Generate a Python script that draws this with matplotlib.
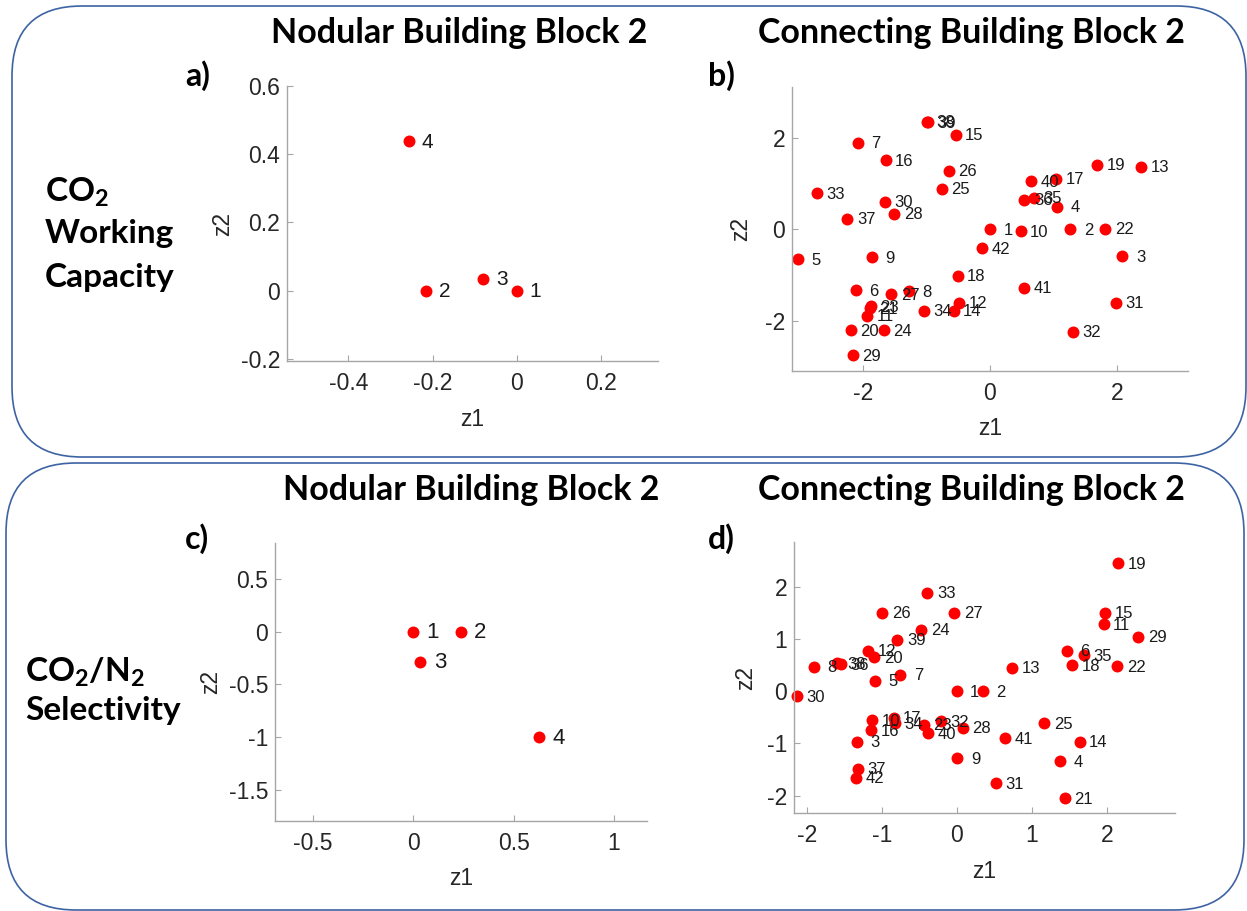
import matplotlib
matplotlib.use('Agg')
import matplotlib.pyplot as plt
from matplotlib.patches import FancyBboxPatch

plt.rcParams['font.family'] = 'Liberation Sans'
plt.rcParams['axes.unicode_minus'] = False
plt.rcParams['mathtext.fontset'] = 'custom'
plt.rcParams['mathtext.rm'] = 'Lato:bold'
plt.rcParams['mathtext.it'] = 'Lato:bold'
plt.rcParams['mathtext.bf'] = 'Lato:bold'

W, H = 1247, 911

# a) nodular block 2, CO2 working capacity
a_ids = [1, 2, 3, 4]
a_z1 = [0.0, -0.215, -0.079, -0.255]
a_z2 = [0.0, 0.0, 0.035, 0.438]

# b) connecting block 2, CO2 working capacity (ids 1..42)
b_z1 = [0.00, 1.26, 2.08, 1.05, -3.02, -2.11, -2.08, -1.27, -1.86, 0.48,
        -1.93, -0.48, 2.37, -0.57, -0.54, -1.64, 1.04, -0.51, 1.68, -2.19,
        -1.89, 1.81, -1.87, -1.67, -0.76, -0.65, -1.55, -1.50, -2.15, -1.65,
        1.98, 1.30, -2.72, -1.04, 0.69, 0.54, -2.24, -0.99, -0.98, 0.65,
        0.54, -0.13]
b_z2 = [0.00, 0.00, -0.59, 0.49, -0.66, -1.34, 1.89, -1.36, -0.61, -0.04,
        -1.90, -1.61, 1.37, -1.79, 2.07, 1.51, 1.11, -1.02, 1.41, -2.21,
        -1.73, 0.01, -1.69, -2.21, 0.89, 1.28, -1.42, 0.34, -2.76, 0.60,
        -1.61, -2.25, 0.79, -1.79, 0.69, 0.65, 0.23, 2.35, 2.34, 1.05,
        -1.28, -0.42]

# c) nodular block 2, CO2/N2 selectivity
c_ids = [1, 2, 3, 4]
c_z1 = [0.0, 0.236, 0.035, 0.628]
c_z2 = [0.0, 0.0, -0.287, -1.0]

# d) connecting block 2, CO2/N2 selectivity (ids 1..42)
d_z1 = [0.00, 0.35, -1.33, 1.38, -1.09, 1.47, -0.75, -1.90, 0.01, -1.13,
        1.96, -1.18, 0.74, 1.64, 1.98, -1.14, -0.84, 1.54, 2.15, -1.10,
        1.44, 2.14, -0.44, -0.47, 1.17, -0.99, -0.03, 0.08, 2.42, -2.13,
        0.52, -0.21, -0.39, -0.82, 1.70, -1.54, -1.32, -1.59, -0.79, -0.38,
        0.64, -1.34]
d_z2 = [0.00, 0.00, -0.97, -1.34, 0.20, 0.77, 0.31, 0.47, -1.29, -0.56,
        1.28, 0.77, 0.45, -0.97, 1.50, -0.75, -0.51, 0.49, 2.45, 0.65,
        -2.05, 0.48, -0.64, 1.17, -0.62, 1.50, 1.50, -0.70, 1.04, -0.10,
        -1.76, -0.58, 1.88, -0.62, 0.69, 0.51, -1.49, 0.53, 0.98, -0.81,
        -0.90, -1.66]

gray = '#a6a6a6'
tick_col = '#262626'
box_col = '#3d63a3'

fig = plt.figure(figsize=(W / 100, H / 100), dpi=100)

# rounded frames, drawn in pixel units
bg = fig.add_axes([0, 0, 1, 1], zorder=-1)
bg.set_xlim(0, W)
bg.set_ylim(H, 0)
bg.axis('off')
for x0, y0, x1, y1 in [(12, 6, 1246, 457), (6, 463, 1244, 910)]:
    bg.add_patch(FancyBboxPatch((x0, y0), x1 - x0, y1 - y0,
                                boxstyle='round,pad=0,rounding_size=70',
                                fc='none', ec=box_col, lw=1.2))


def make_ax(l, t, r, b, xlim, ylim, xticks, yticks, ylab_dx):
    ax = fig.add_axes([l / W, 1 - b / H, (r - l) / W, (b - t) / H])
    ax.set_xlim(xlim)
    ax.set_ylim(ylim)
    ax.set_xticks(xticks)
    ax.set_yticks(yticks)
    ax.set_xticklabels([f'{v:g}' for v in xticks])
    ax.set_yticklabels([f'{v:g}' for v in yticks])
    for s in ['top', 'right']:
        ax.spines[s].set_visible(False)
    for s in ['left', 'bottom']:
        ax.spines[s].set_color(gray)
        ax.spines[s].set_linewidth(1.0)
    ax.tick_params(direction='in', length=4, width=0.8, color=gray,
                   labelsize=16.5, labelcolor=tick_col)
    ax.tick_params(axis='x', pad=8)
    ax.tick_params(axis='y', pad=5)
    ax.patch.set_alpha(0)
    ax.set_xlabel('z1', fontsize=16.5, color=tick_col)
    ax.set_ylabel('z2', fontsize=16.5, color=tick_col)
    ax.xaxis.set_label_coords(0.5, -58 / (b - t))
    ax.xaxis.label.set_va('center')
    ax.yaxis.set_label_coords(-ylab_dx / (r - l), 0.5)
    ax.yaxis.label.set_va('center')
    return ax


def put_points(ax, ids, xs, ys, fs, off1, off2):
    ax.plot(xs, ys, 'o', color='#ff0000', ms=8.6, mec='none', clip_on=False)
    for n, x, y in zip(ids, xs, ys):
        dx = off1 if n < 10 else off2
        ax.annotate(str(n), (x, y), xytext=(dx, -1), textcoords='offset pixels',
                    fontsize=fs, va='center', ha='left', color='#1a1a1a')


ids42 = list(range(1, 43))

ax_a = make_ax(287.3, 85.7, 657.7, 361.3, (-0.545, 0.335), (-0.207, 0.6),
               [-0.4, -0.2, 0, 0.2], [-0.2, 0, 0.2, 0.4, 0.6], 65)
put_points(ax_a, a_ids, a_z1, a_z2, 15, 12.5, 12.5)

ax_b = make_ax(792.3, 87.3, 1187.7, 370.7, (-3.105, 3.105), (-3.1, 3.11),
               [-2, 0, 2], [-2, 0, 2], 52)
put_points(ax_b, ids42, b_z1, b_z2, 12, 13.5, 9.5)

ax_c = make_ax(275.3, 543.3, 646.7, 820.7, (-0.687, 1.163), (-1.789, 0.836),
               [-0.5, 0, 0.5, 1], [-1.5, -1, -0.5, 0, 0.5], 65)
put_points(ax_c, c_ids, c_z1, c_z2, 16, 13.5, 13.5)

ax_d = make_ax(794.3, 541.7, 1175, 813.3, (-2.165, 2.91), (-2.34, 2.86),
               [-2, -1, 0, 1, 2], [-2, -1, 0, 1, 2], 49)
put_points(ax_d, ids42, d_z1, d_z2, 12, 13.5, 9.5)

# headings and row labels (pixel positions)
bold = dict(family='Lato', weight='bold', color='black')


def ftext(x, y, s, size, ha='left'):
    fig.text(x / W, 1 - y / H, s, fontsize=size, ha=ha, va='baseline', **bold)


ftext(459, 43, 'Nodular Building Block 2', 24.5, 'center')
ftext(972, 43, 'Connecting Building Block 2', 24.5, 'center')
ftext(471, 500, 'Nodular Building Block 2', 24.5, 'center')
ftext(972, 500, 'Connecting Building Block 2', 24.5, 'center')

ftext(185, 86, 'a)', 23)
ftext(708, 86, 'b)', 23)
ftext(185, 549, 'c)', 23)
ftext(708, 549, 'd)', 23)

ftext(45, 202, r'CO$_2$', 24)
ftext(45, 243, 'Working', 24)
ftext(45, 287, 'Capacity', 24)
ftext(25, 682, r'CO$_2$/N$_2$', 24)
ftext(25, 720, 'Selectivity', 24)

plt.savefig('out.png', dpi=100)
